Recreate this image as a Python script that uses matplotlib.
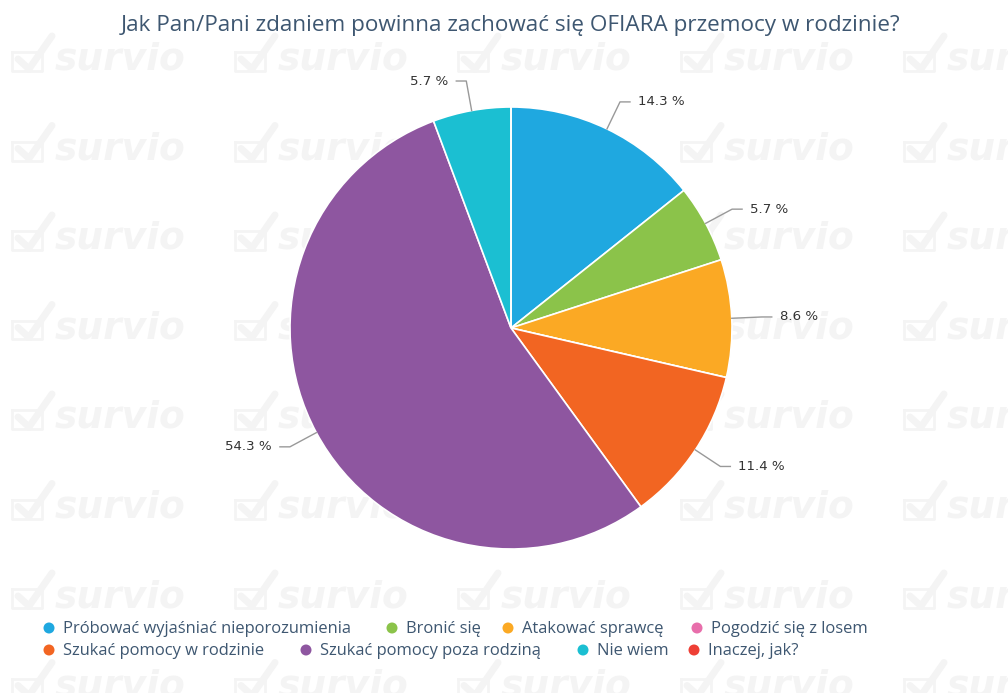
import numpy as np
import matplotlib
matplotlib.use("Agg")
import matplotlib.pyplot as plt

title = "Jak Pan/Pani zdaniem powinna zachować się OFIARA przemocy w rodzinie?"
categories = ["Próbować wyjaśniać nieporozumienia", "Bronić się", "Atakować sprawcę",
              "Pogodzić się z losem", "Szukać pomocy w rodzinie",
              "Szukać pomocy poza rodziną", "Nie wiem", "Inaczej, jak?"]
values = [14.3, 5.7, 8.6, 0.0, 11.4, 54.3, 5.7, 0.0]
colors = ["#1FA8E0", "#8BC34A", "#FBA924", "#E86EAB", "#F26522", "#8E56A0", "#1BBFD2", "#EE3F35"]

W, H = 1008, 693
fig = plt.figure(figsize=(W / 100, H / 100), dpi=100)
fig.patch.set_facecolor("white")

# watermark
wm_color = "#F4F4F4"
for row in range(8):
    yc = 58 + row * 89.5
    for col in range(5):
        x0 = 12 + col * 223
        fig.text((x0 + 43) / W, 1 - (yc + 12) / H, "survio", fontsize=27, fontweight="bold",
                 style="italic", color=wm_color, family="DejaVu Sans", ha="left",
                 va="baseline", zorder=-5)
        bx = np.array([x0, x0 + 30, x0 + 30, x0, x0])
        by = np.array([yc - 6, yc - 6, yc + 13, yc + 13, yc - 6])
        fig.lines.append(matplotlib.lines.Line2D(bx / W, 1 - by / H, color=wm_color, lw=2,
                                                 transform=fig.transFigure, zorder=-5))
        cx = np.array([x0 + 6, x0 + 17, x0 + 40])
        cy = np.array([yc + 1, yc + 11, yc - 22])
        fig.lines.append(matplotlib.lines.Line2D(cx / W, 1 - cy / H, color=wm_color, lw=5,
                                                 solid_capstyle="round",
                                                 transform=fig.transFigure, zorder=-5))

# pie axes: center (511,328), radius 221 px
cxp, cyp, R = 511, 328, 221
ax = fig.add_axes([(cxp - R) / W, 1 - (cyp + R) / H, 2 * R / W, 2 * R / H], zorder=2)
ax.patch.set_alpha(0)

wedges, _ = ax.pie(values, colors=colors, startangle=90, counterclock=False, radius=1,
                   wedgeprops=dict(edgecolor="white", linewidth=1.2), center=(0, 0))
ax.set_xlim(-1, 1)
ax.set_ylim(-1, 1)
ax.axis("off")

total = sum(values)
cum = 0.0
for v in values:
    start = cum
    cum += v
    if v <= 0:
        continue
    mid = (start + v / 2) / total * 360.0
    ang = np.deg2rad(90 - mid)
    ex, ey = np.cos(ang), np.sin(ang)
    ra = 1 + 30 / R
    axp, ayp = ra * ex, ra * ey
    side = 1 if ex >= 0 else -1
    lx = [ex * 1.0, ex * (1 + 18 / R), axp, axp + side * 10 / R]
    ly = [ey * 1.0, ey * (1 + 18 / R), ayp, ayp]
    ax.plot(lx, ly, color="#999999", lw=1, clip_on=False)
    ax.text(axp + side * 18 / R, ayp, f"{v:.1f} %", ha="left" if side > 0 else "right",
            va="center", fontsize=9.6, color="#333333", family="DejaVu Sans", clip_on=False)

fig.text(511 / W, 1 - 26 / H, title, ha="center", va="center", fontsize=16.2,
         color="#3E5771", family="Open Sans", zorder=3)

# legend (flow layout, positions in px)
leg_pos = [(49, 628), (392, 628), (508, 628), (697, 628),
           (49, 650), (306, 650), (583, 650), (694, 650)]
for (lx_, ly_), lab, col in zip(leg_pos, categories, colors):
    fig.patches.append(matplotlib.patches.Ellipse((lx_ / W, 1 - ly_ / H), 11 / W, 11 / H,
                                                  facecolor=col, edgecolor="none",
                                                  transform=fig.transFigure, zorder=3))
    fig.text((lx_ + 14) / W, 1 - (ly_ + 1) / H, lab, ha="left", va="center", fontsize=11.9,
             color="#3E5771", family="Open Sans", zorder=3)

fig.savefig("out.png", dpi=100, facecolor="white")
